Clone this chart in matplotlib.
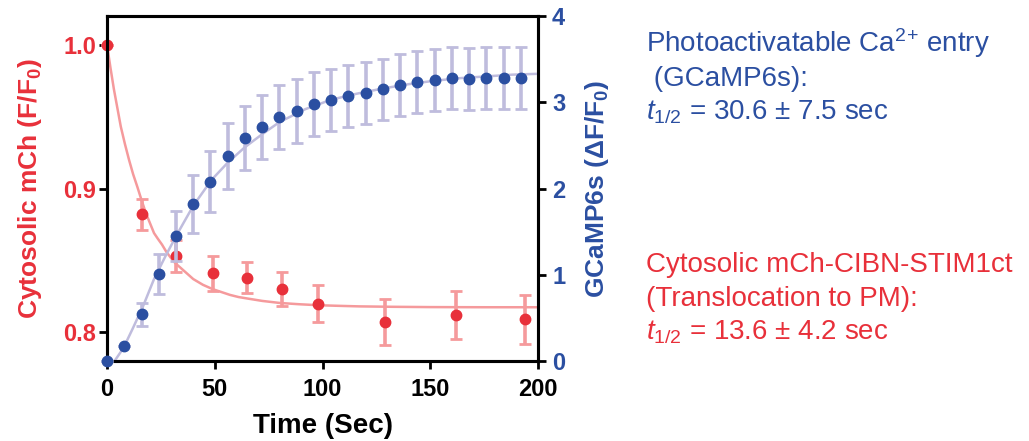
import matplotlib
matplotlib.use("Agg")
import matplotlib.pyplot as plt

plt.rcParams['font.family'] = ['Liberation Sans', 'DejaVu Sans']
plt.rcParams['mathtext.fontset'] = 'custom'
plt.rcParams['mathtext.rm'] = 'Liberation Sans'
plt.rcParams['mathtext.it'] = 'Liberation Sans:italic'
plt.rcParams['mathtext.bf'] = 'Liberation Sans:bold'

# GCaMP6s (right axis)
blue_t = [0, 8, 16, 24, 32, 40, 48, 56, 64, 72, 80, 88, 96, 104, 112, 120,
          128, 136, 144, 152, 160, 168, 176, 184, 192]
blue_y = [0.0, 0.17, 0.54, 1.01, 1.45, 1.82, 2.08, 2.38, 2.59, 2.71, 2.83,
          2.90, 2.98, 3.03, 3.07, 3.11, 3.15, 3.20, 3.24, 3.26, 3.28, 3.27,
          3.28, 3.28, 3.28]
blue_err = [0, 0, 0.13, 0.23, 0.29, 0.34, 0.35, 0.38, 0.37, 0.37, 0.37, 0.37,
            0.37, 0.36, 0.36, 0.36, 0.35, 0.36, 0.36, 0.36, 0.36, 0.36, 0.36,
            0.36, 0.355]
# fitted curve
blue_fit_t = [3.5, 7.6, 12, 16.8, 21.8, 27, 32.3, 40, 48.5, 56, 64, 72, 80,
              92, 104, 116, 128, 140, 152, 164, 176, 188, 200]
blue_fit_y = [0.0, 0.15, 0.38, 0.64, 0.95, 1.21, 1.46, 1.80, 2.10, 2.30, 2.48,
              2.63, 2.77, 2.92, 3.03, 3.10, 3.16, 3.21, 3.25, 3.28, 3.30, 3.32,
              3.33]

# Cytosolic mCh (left axis)
red_t = [0, 16, 32, 49, 65, 81, 98, 129, 162, 194]
red_y = [1.0, 0.882, 0.853, 0.841, 0.838, 0.830, 0.820, 0.807, 0.812, 0.809]
red_err = [0, 0.011, 0.011, 0.012, 0.011, 0.012, 0.013, 0.016, 0.017, 0.017]
red_fit_t = [0, 1.6, 3.2, 4.8, 6.4, 8.3, 10.2, 12.1, 14.1, 16, 18, 19.9, 21.8,
             23.6, 25.5, 27.5, 29.5, 31.7, 34, 37, 40, 44.5, 49, 53, 57, 61,
             65, 72, 80, 89, 98, 107, 117, 133, 150, 175, 200]
red_fit_y = [1.0, 0.984, 0.969, 0.956, 0.943, 0.931, 0.920, 0.910, 0.901,
             0.892, 0.883, 0.876, 0.869, 0.865, 0.861, 0.856, 0.852, 0.848,
             0.845, 0.841, 0.837, 0.833, 0.830, 0.828, 0.826, 0.8245, 0.8235,
             0.8218, 0.8204, 0.8195, 0.8188, 0.8184, 0.818, 0.8177, 0.8175,
             0.8174, 0.8174]

RED = '#E8303A'
RED_LIGHT = '#F59A9C'
BLUE = '#2B4FA1'
BLUE_LIGHT = '#BFBCDD'

fig = plt.figure(figsize=(10.29, 4.41), dpi=100)
ax = fig.add_axes([0.104, 0.1814, 0.419, 0.7823])
ax2 = ax.twinx()

ax.plot(red_fit_t, red_fit_y, color=RED_LIGHT, lw=1.8, zorder=2)
ax.errorbar(red_t, red_y, yerr=red_err, fmt='o', color=RED, ms=7.5,
            ecolor=RED_LIGHT, elinewidth=2.6, capsize=4, capthick=2,
            zorder=3, clip_on=False)

ax2.plot(blue_fit_t, blue_fit_y, color=BLUE_LIGHT, lw=1.8, zorder=2)
ax2.errorbar(blue_t, blue_y, yerr=blue_err, fmt='o', color=BLUE, ms=7.5,
             ecolor=BLUE_LIGHT, elinewidth=2.6, capsize=4, capthick=2,
             zorder=3, clip_on=False)

ax.set_xlim(0, 200)
ax.set_ylim(0.78, 1.02)
ax2.set_ylim(0, 4)
ax.set_xticks([0, 50, 100, 150, 200])
ax.set_yticks([0.8, 0.9, 1.0])
ax.set_yticklabels(['0.8', '0.9', '1.0'])
ax2.set_yticks([0, 1, 2, 3, 4])

for a in (ax, ax2):
    for s in a.spines.values():
        s.set_linewidth(2.2)
        s.set_color('black')
    a.tick_params(direction='out', length=6, width=2, labelsize=17, pad=3)

ax.tick_params(axis='x', pad=6)
ax.tick_params(axis='y', labelcolor=RED, pad=2)
ax2.tick_params(axis='y', labelcolor=BLUE, pad=4)
for lab in ax.get_xticklabels() + ax.get_yticklabels() + ax2.get_yticklabels():
    lab.set_fontweight('bold')

ax.set_xlabel('Time (Sec)', fontsize=20, fontweight='bold', labelpad=9)
ax.set_ylabel(r'Cytosolic mCh (F/F$_\mathbf{0}$)', fontsize=19,
              fontweight='bold', color=RED, labelpad=14)
ax2.set_ylabel(r'GCaMP6s (ΔF/F$_\mathbf{0}$)', fontsize=19,
               fontweight='bold', color=BLUE, rotation=90, labelpad=13)

tx = 646 / 1029
blue_lines = [r'Photoactivatable Ca$^{2}$$^{+}$ entry', ' (GCaMP6s):',
              r'$t_{\mathrm{1/2}}$ = 30.6 ± 7.5 sec']
for i, s in enumerate(blue_lines):
    fig.text(tx, 1 - (51.7 + 34 * i) / 441, s, color=BLUE, fontsize=20,
             va='baseline', ha='left')
red_lines = ['Cytosolic mCh-CIBN-STIM1ct', '(Translocation to PM):',
             r'$t_{\mathrm{1/2}}$ = 13.6 ± 4.2 sec']
for i, s in enumerate(red_lines):
    fig.text(tx, 1 - (271.7 + 34 * i) / 441, s, color=RED, fontsize=20,
             va='baseline', ha='left')

fig.savefig('out.png', dpi=100)
